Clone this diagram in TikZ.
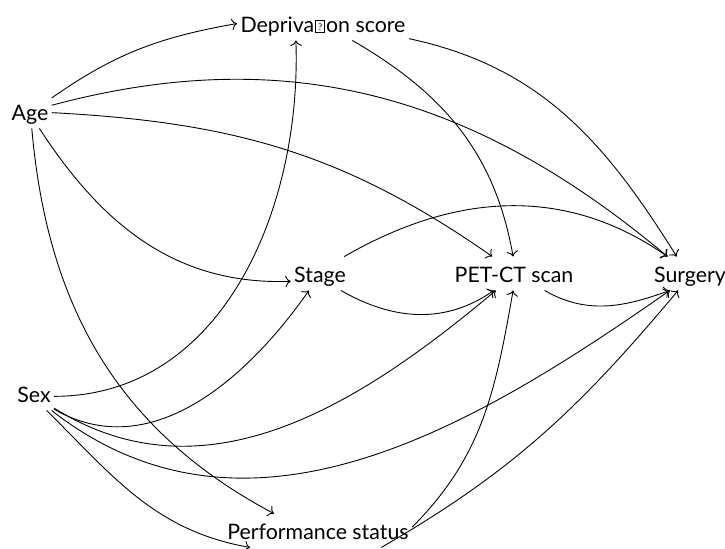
\documentclass[tikz,border=0pt]{standalone}
\usepackage{fontspec}
\setmainfont{Lato}
\usetikzlibrary{arrows.meta}
\newcommand{\notdefglyph}{\kern0.4pt{\setlength{\fboxsep}{0pt}\setlength{\fboxrule}{0.35pt}\fbox{\makebox[3.9pt]{\rule[0pt]{0pt}{5.0pt}\raisebox{0.9pt}{\fontsize{4.2}{4.2}\selectfont ?}}}}\kern0.4pt}
\begin{document}
\begin{tikzpicture}[x=0.45pt,y=-0.45pt,
  lbl/.style={inner sep=1.35pt, text height=9.9pt, text depth=2.25pt, font=\fontsize{9.6}{12}\selectfont, anchor=base},
  edge/.style={->, line width=0.4pt}]
\useasboundingbox (0,0) rectangle (725,548);
\node[lbl] (age) at (30,120) {Age};
\node[lbl] (dep) at (323,32) {Depriva\notdefglyph on score};
\node[lbl] (stage) at (320,282) {Stage};
\node[lbl] (pet) at (514,282) {PET-CT scan};
\node[lbl] (surg) at (690,282) {Surgery};
\node[lbl] (sex) at (34,402) {Sex};
\node[lbl] (perf) at (318,539) {Performance status};

\draw[edge] (age.32) to[out=35,in=190] (dep.180);
\draw[edge] (age.16) to[out=15,in=140] (surg.143);
\draw[edge] (age.-3) to[out=-3,in=145] (pet.142);
\draw[edge] (age.-61) to[out=-57,in=182] (stage.195);
\draw[edge] (age.-84) to[out=-85,in=152] (perf.159);
\draw[edge] (dep.-30) to[out=-30,in=100] (pet.93);
\draw[edge] (dep.-10) to[out=-12,in=122] (surg.128);
\draw[edge] (sex.-8) to[out=0,in=-88] (dep.-148);
\draw[edge] (sex.-38) to[out=-30,in=-125] (stage.-123);
\draw[edge] (sex.-36) to[out=-32,in=-140] (pet.-137);
\draw[edge] (sex.-44) to[out=-38,in=-145] (surg.-140);
\draw[edge] (sex.-53) to[out=-45,in=170] (perf.194);
\draw[edge] (stage.-39) to[out=-30,in=-145] (pet.-140);
\draw[edge] (stage.35) to[out=30,in=145] (surg.143);
\draw[edge] (pet.-29) to[out=-30,in=-160] (surg.-140);
\draw[edge] (perf.2) to[out=45,in=-100] (pet.-93);
\draw[edge] (perf.-15) to[out=30,in=-130] (surg.-125);
\end{tikzpicture}
\end{document}
